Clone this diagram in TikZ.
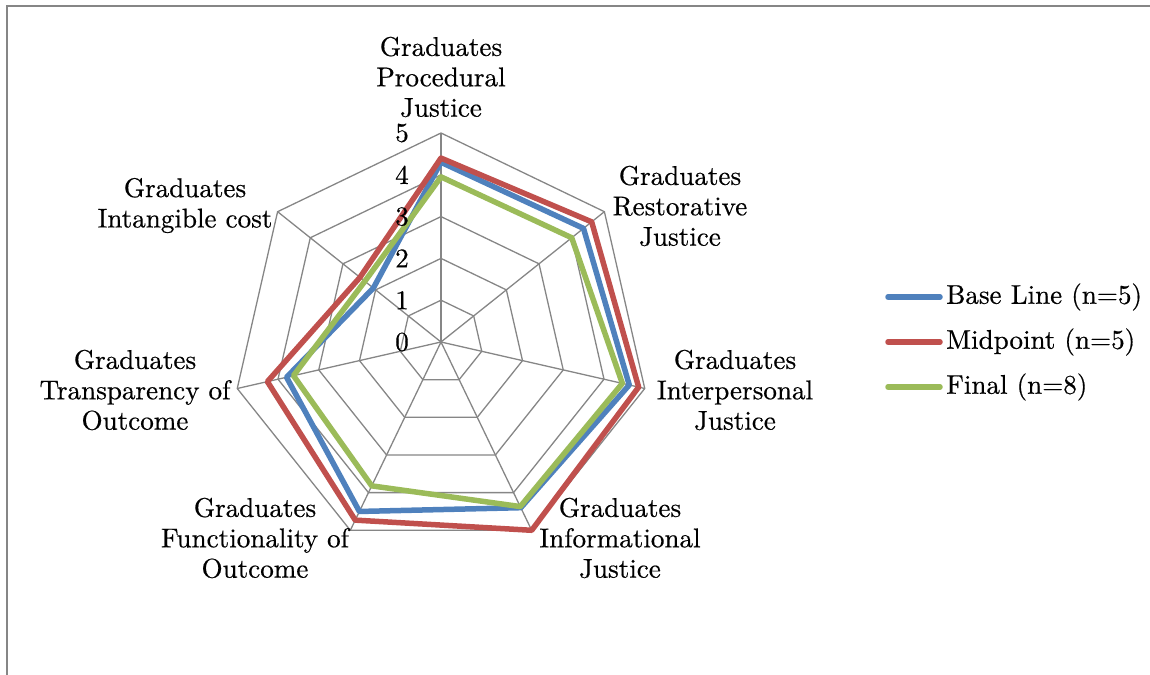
\documentclass[tikz,border=0pt]{standalone}
\usepackage{fontspec}
\newfontfamily\labfont{lmroman10-regular.otf}[FakeBold=0.5]
\definecolor{sblue}{HTML}{4F81BD}
\definecolor{sred}{HTML}{C0504D}
\definecolor{sgreen}{HTML}{9BBB59}
\definecolor{gridc}{HTML}{868686}
\begin{document}
\begin{tikzpicture}[x=1bp,y=-1bp,
  lab/.style={align=center,font=\labfont\fontsize{27.2}{30.5}\selectfont,inner sep=0pt},
  tick/.style={font=\labfont\fontsize{27.2}{30.5}\selectfont,inner sep=0pt},
  gridl/.style={draw=gridc,line width=1.3bp},
  ser/.style={line width=5.5bp,line join=round,line cap=round},
  base/.style={ser,draw=sblue},
  mid/.style={ser,draw=sred},
  fin/.style={ser,draw=sgreen}]
\useasboundingbox (0,0) rectangle (1150,675);
\draw[gridc,line width=1.5bp] (7,675) -- (7,6) -- (1150,6);
\begin{scope}[shift={(441,342)}]
  \coordinate (C) at (0,0);
  \foreach \k in {1,...,5}{
    \draw[gridl,line join=miter] (-90:\k*41.8) -- (-38.571:\k*41.8) -- (12.857:\k*41.8) -- (64.286:\k*41.8) -- (115.714:\k*41.8) -- (167.143:\k*41.8) -- (218.571:\k*41.8) -- cycle;
  }
  \foreach \a in {-90,-38.571,12.857,64.286,115.714,167.143,218.571}{
    \draw[gridl] (C) -- (\a:5*41.8);
  }
  \draw[base] (-90:4.30*41.8) -- (-38.571:4.36*41.8) -- (12.857:4.62*41.8) -- (64.286:4.40*41.8) -- (115.714:4.50*41.8) -- (167.143:3.79*41.8) -- (218.571:2.07*41.8) -- cycle;
  \draw[mid] (-90:4.40*41.8) -- (-38.571:4.61*41.8) -- (12.857:4.85*41.8) -- (64.286:5.00*41.8) -- (115.714:4.73*41.8) -- (167.143:4.26*41.8) -- (218.571:2.48*41.8) -- cycle;
  \draw[fin] (-90:3.95*41.8) -- (-38.571:4.00*41.8) -- (12.857:4.45*41.8) -- (64.286:4.37*41.8) -- (115.714:3.82*41.8) -- (167.143:3.62*41.8) -- (218.571:2.33*41.8) -- cycle;
\end{scope}
\foreach \k in {0,...,5}{
  \node[tick] (t\k) at (402,{342-\k*41.8}) {\k};
}
\node[lab] (proc) at (441,77) {Graduates\\Procedural\\Justice};
\node[lab] (rest) at (680,206) {Graduates\\Restorative\\Justice};
\node[lab] (inter) at (735,390) {Graduates\\Interpersonal\\Justice};
\node[lab] (info) at (620,538) {Graduates\\Informational\\Justice};
\node[lab] (func) at (255,538) {Graduates\\Functionality of\\Outcome};
\node[lab] (trans) at (135,390) {Graduates\\Transparency of\\Outcome};
\node[lab] (intang) at (185,205.5) {Graduates\\Intangible cost};
\coordinate (l1a) at (888,297); \coordinate (l1b) at (940,297);
\coordinate (l2a) at (888,342); \coordinate (l2b) at (940,342);
\coordinate (l3a) at (888,387); \coordinate (l3b) at (940,387);
\draw[base] (l1a) -- (l1b);
\draw[mid] (l2a) -- (l2b);
\draw[fin] (l3a) -- (l3b);
\node[tick,anchor=west] (lg1) at (946,297) {Base Line (n=5)};
\node[tick,anchor=west] (lg2) at (946,342) {Midpoint (n=5)};
\node[tick,anchor=west] (lg3) at (946,387) {Final (n=8)};
\end{tikzpicture}
\end{document}
